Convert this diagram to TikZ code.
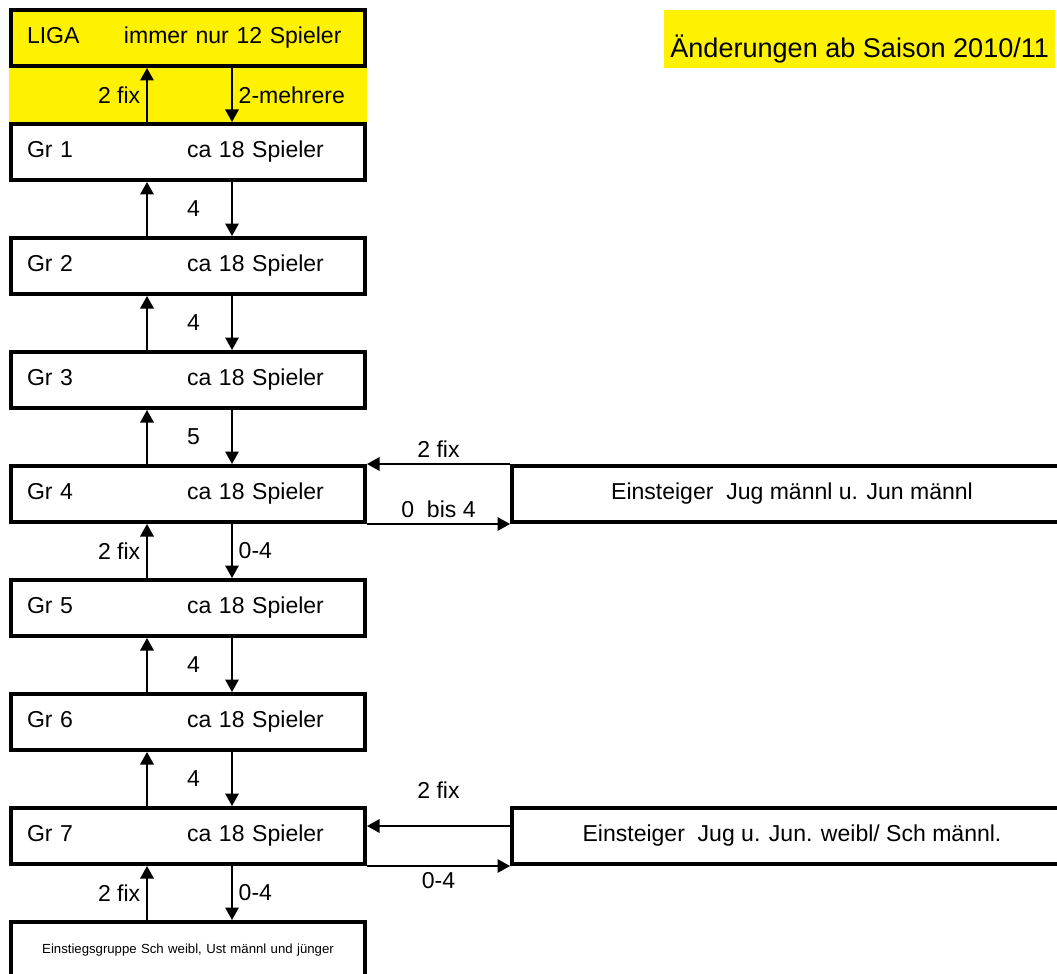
\documentclass[tikz,border=0pt]{standalone}
\usepackage{fontspec}
\setmainfont{Liberation Sans}
\usetikzlibrary{positioning,arrows.meta}

\tikzset{
    >={Triangle[length=0.25cm,width=0.27cm]},
    grbox/.style={draw, line width=0.08cm, minimum width=7.08cm, minimum height=1.12cm,
        inner xsep=0.32cm, text width=6.44cm, align=left},
    einbox/.style={draw, line width=0.08cm, minimum width=11.2cm, minimum height=1.12cm, align=center},
    arr/.style={->, line width=0.035cm}
}

\begin{document}
\begin{tikzpicture}[node distance=1.08cm, font=\fontsize{13.1}{15.7}\selectfont]
    \path[use as bounding box, clip] (0,0) rectangle (21.14,-19.46);

    % Liga und Gruppen
    \node[grbox, fill=yellow] (liga) at (3.76,-0.76) {\makebox[1.94cm][l]{LIGA}immer nur 12 Spieler};
    \node[grbox, below=of liga] (g1) {\makebox[3.2cm][l]{Gr 1}ca 18 Spieler};
    \node[grbox, below=of g1] (g2) {\makebox[3.2cm][l]{Gr 2}ca 18 Spieler};
    \node[grbox, below=of g2] (g3) {\makebox[3.2cm][l]{Gr 3}ca 18 Spieler};
    \node[grbox, below=of g3] (g4) {\makebox[3.2cm][l]{Gr 4}ca 18 Spieler};
    \node[grbox, below=of g4] (g5) {\makebox[3.2cm][l]{Gr 5}ca 18 Spieler};
    \node[grbox, below=of g5] (g6) {\makebox[3.2cm][l]{Gr 6}ca 18 Spieler};
    \node[grbox, below=of g6] (g7) {\makebox[3.2cm][l]{Gr 7}ca 18 Spieler};
    \node[grbox, below=of g7, align=center, font=\fontsize{7.5}{9}\selectfont] (einst) {Einstiegsgruppe Sch weibl, Ust männl und jünger};
    \fill[yellow] (liga.south west) rectangle (g1.north east);

    % Einsteiger
    \node[einbox, right=2.86cm of g4] (jm) {Einsteiger\ \ Jug männl u. Jun männl};
    \node[einbox, right=2.86cm of g7] (jw) {Einsteiger\ \ Jug u. Jun. weibl/ Sch männl.};

    \node[fill=yellow, anchor=north west, inner xsep=0.12cm, inner ysep=0, text height=0.94cm, text depth=0.22cm,
        font=\fontsize{15.4}{18}\selectfont] (titel) at (13.28,-0.2) {Änderungen ab Saison 2010/11};

    % Auf- und Abstieg
    \draw[arr] ([xshift=-0.82cm]g1.north) -- ([xshift=-0.82cm]liga.south) node[midway, left] {2 fix};
    \draw[arr] ([xshift=0.88cm]liga.south) -- ([xshift=0.88cm]g1.north) node[midway, right] {2-mehrere};
    \draw[arr] ([xshift=-0.82cm]g2.north) -- ([xshift=-0.82cm]g1.south) node[midway, right=0.67cm] {4};
    \draw[arr] ([xshift=0.88cm]g1.south) -- ([xshift=0.88cm]g2.north);
    \draw[arr] ([xshift=-0.82cm]g3.north) -- ([xshift=-0.82cm]g2.south) node[midway, right=0.67cm] {4};
    \draw[arr] ([xshift=0.88cm]g2.south) -- ([xshift=0.88cm]g3.north);
    \draw[arr] ([xshift=-0.82cm]g4.north) -- ([xshift=-0.82cm]g3.south) node[midway, right=0.67cm] {5};
    \draw[arr] ([xshift=0.88cm]g3.south) -- ([xshift=0.88cm]g4.north);
    \draw[arr] ([xshift=-0.82cm]g5.north) -- ([xshift=-0.82cm]g4.south) node[midway, left] {2 fix};
    \draw[arr] ([xshift=0.88cm]g4.south) -- ([xshift=0.88cm]g5.north) node[midway, right] {0-4};
    \draw[arr] ([xshift=-0.82cm]g6.north) -- ([xshift=-0.82cm]g5.south) node[midway, right=0.67cm] {4};
    \draw[arr] ([xshift=0.88cm]g5.south) -- ([xshift=0.88cm]g6.north);
    \draw[arr] ([xshift=-0.82cm]g7.north) -- ([xshift=-0.82cm]g6.south) node[midway, right=0.67cm] {4};
    \draw[arr] ([xshift=0.88cm]g6.south) -- ([xshift=0.88cm]g7.north);
    \draw[arr] ([xshift=-0.82cm]einst.north) -- ([xshift=-0.82cm]g7.south) node[midway, left] {2 fix};
    \draw[arr] ([xshift=0.88cm]g7.south) -- ([xshift=0.88cm]einst.north) node[midway, right] {0-4};

    % Einsteiger zu Gr 4 und Gr 7
    \draw[arr] (jm.north west) -- (g4.north east) node[midway, above] {2 fix};
    \draw[arr] (g4.south east) -- (jm.south west) node[midway, above] {0\ \ bis 4};
    \draw[arr] ([yshift=0.2cm]jw.west) -- ([yshift=0.2cm]g7.east) node[midway, above=0.42cm] {2 fix};
    \draw[arr] (g7.south east) -- (jw.south west) node[midway, below] {0-4};
\end{tikzpicture}
\end{document}
